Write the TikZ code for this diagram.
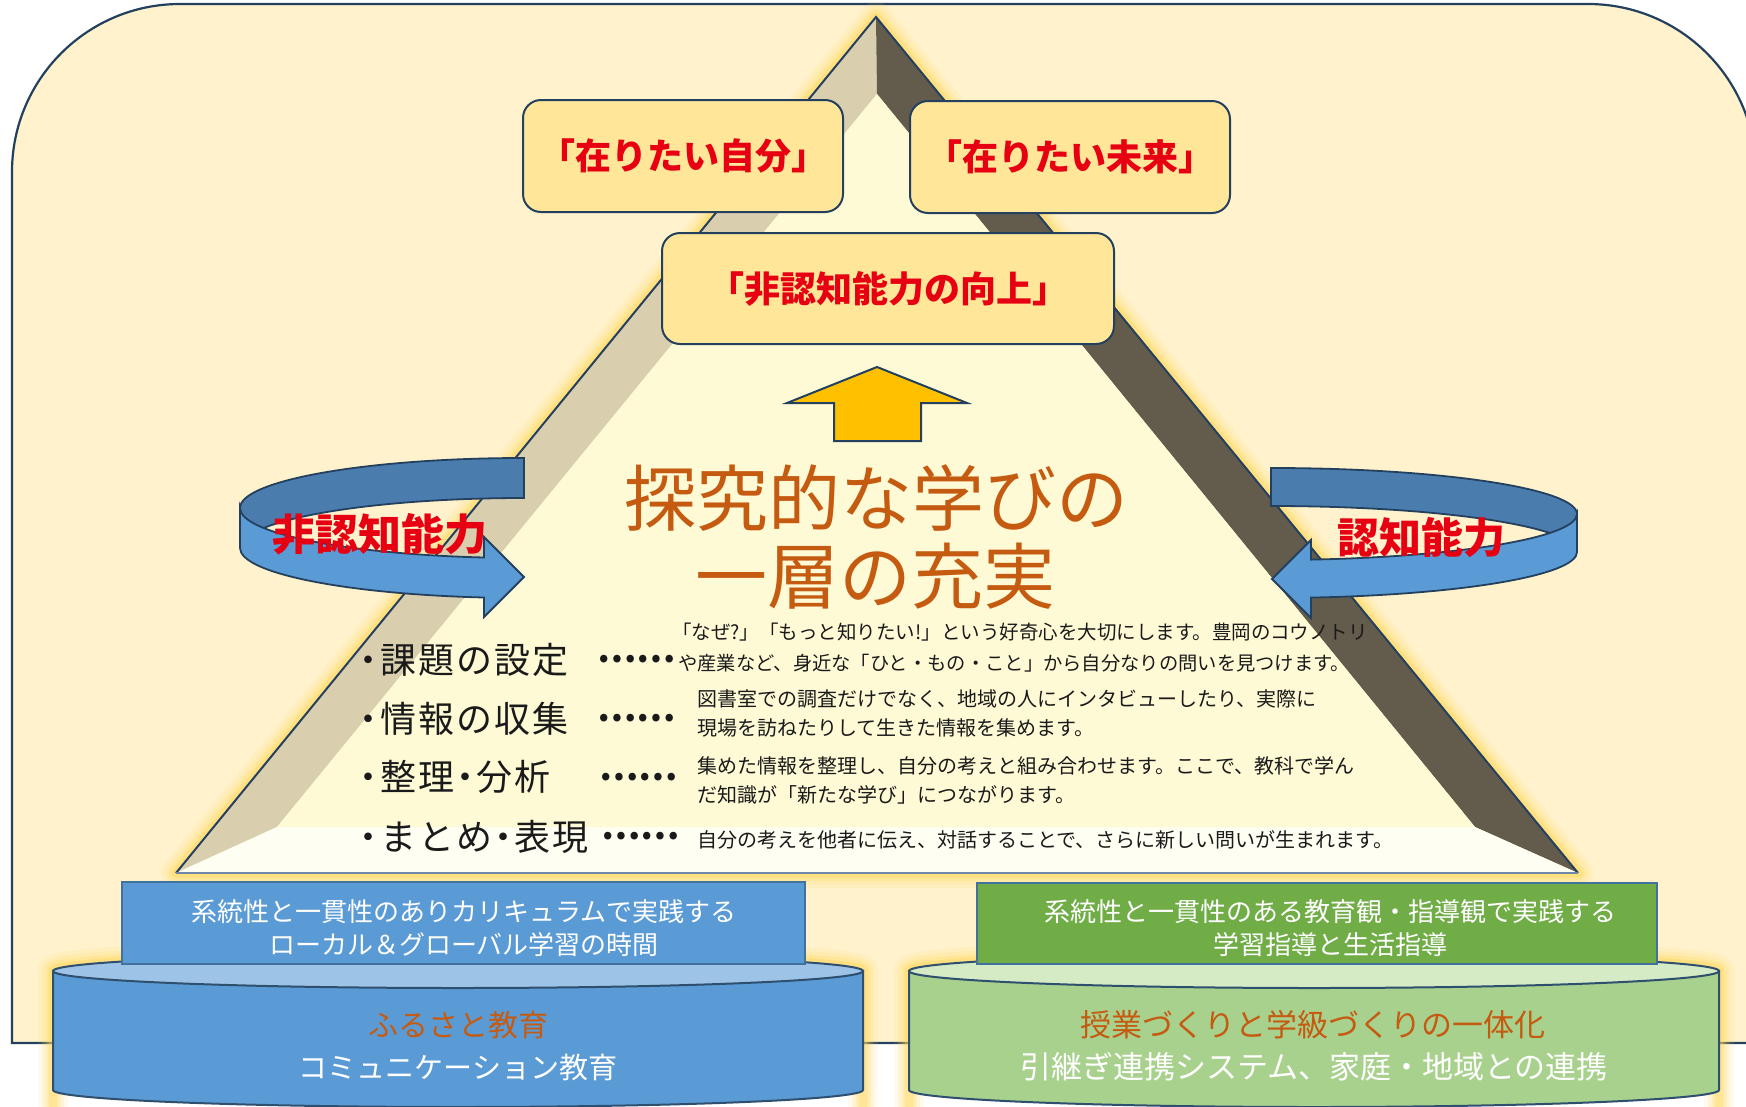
\documentclass[tikz,border=0pt]{standalone}
\usepackage{fontspec}
\setmainfont{Noto Sans CJK JP}
\usepackage{graphicx}
\definecolor{bgfill}{HTML}{FFF2CC}
\definecolor{linec}{HTML}{24405F}
\definecolor{tanf}{HTML}{D9CFAF}
\definecolor{darkf}{HTML}{635C4D}
\definecolor{frontf}{HTML}{FFFAD6}
\definecolor{botf}{HTML}{FFFEF2}
\definecolor{boxf}{HTML}{FFE699}
\definecolor{redc}{HTML}{E60012}
\definecolor{orangec}{HTML}{C55A11}
\definecolor{goldc}{HTML}{FFC000}
\definecolor{glowc}{HTML}{FFD54F}
\definecolor{ribdark}{HTML}{4A7DAE}
\definecolor{ribfront}{HTML}{5B9BD5}
\definecolor{bluef}{HTML}{5B9BD5}
\definecolor{bluetop}{HTML}{9DC3E6}
\definecolor{blueline}{HTML}{41719C}
\definecolor{greenf}{HTML}{70AD47}
\definecolor{greenside}{HTML}{A9D18E}
\definecolor{greentop}{HTML}{D5EBC6}
\definecolor{cylline}{HTML}{2F4F6F}
\definecolor{baseln}{HTML}{6F87A8}
\definecolor{txtc}{HTML}{1A1A1A}
\newcommand\mysize[1]{\fontsize{#1pt}{#1pt}\selectfont}
\newcommand\myglow[1]{%
  \foreach \w/\o in {30/0.10,22/0.15,15/0.22,9/0.32}{%
    \draw[glowc, line width=\w pt, opacity=\o, line join=round] #1;}}
\tikzset{
  lbox/.style={draw=linec, line width=2pt, fill=boxf, rounded corners=18pt,
    inner sep=0pt, text=redc, font=\mysize{36}\bfseries},
  titletxt/.style={inner sep=0pt, text=orangec, font=\mysize{72}},
  itemtxt/.style={inner sep=0pt, anchor=west, text=txtc,
    font=\mysize{36}\addfontfeature{LetterSpace=6}},
  dotstxt/.style={inner sep=0pt, anchor=west, text=txtc, font=\mysize{35}\bfseries},
  desctxt/.style={inner sep=0pt, anchor=west, text=txtc, font=\mysize{20}},
  riblabel/.style={inner sep=0pt, text=redc, font=\mysize{43}\bfseries},
  ribback/.style={fill=ribdark, draw=linec, line width=1.8pt, line join=miter},
  ribfr/.style={fill=ribfront, draw=linec, line width=1.8pt, line join=miter},
  rectbox/.style={draw=blueline, line width=2pt, inner sep=0pt},
  recttxt/.style={inner sep=0pt, text=white, font=\mysize{26}},
  cyltxt/.style={inner sep=0pt, font=\mysize{30}},
}
\begin{document}
\begin{tikzpicture}[x=1pt,y=-1pt]
\useasboundingbox (0,0) rectangle (1746,1106);
\clip (0,0) rectangle (1746,1106);
\fill[white] (0,0) rectangle (1746,1106);

% background panel
\draw[draw=linec, line width=2.2pt, fill=bgfill] (12,1043) -- (12,172)
  arc[start angle=180, end angle=270, radius=168] -- (1588,4)
  arc[start angle=270, end angle=360, radius=168] -- (1756,1043) -- cycle;

% pyramid
\myglow{(876,17) -- (176,873) -- (1578,873) -- cycle}
\fill[tanf] (876,17) -- (176,873) -- (277,827) -- (877,94) -- cycle;
\fill[darkf] (876,17) -- (877,94) -- (1475,827) -- (1578,873) -- cycle;
\fill[botf] (176,873) -- (277,827) -- (1475,827) -- (1578,873) -- cycle;
\fill[frontf] (877,94) -- (277,827) -- (1475,827) -- cycle;
\draw[linec, line width=2pt] (176,873) -- (876,17) -- (1578,873);
\draw[baseln, line width=2.5pt] (176,873) -- (1578,873);

% top boxes
\node[lbox, minimum width=320pt, minimum height=112pt] (jibun) at (683,156) {「在りたい自分」};
\node[lbox, minimum width=320pt, minimum height=112pt] (mirai) at (1070,157) {「在りたい未来」};
\node[lbox, minimum width=452pt, minimum height=111pt] (kojo) at (888,288.5) {「非認知能力の向上」};

% up arrow
\filldraw[fill=goldc, draw=linec, line width=2pt] (877,367) -- (967,403) -- (921,403)
  -- (921,441) -- (834,441) -- (834,403) -- (787,403) -- cycle;

% title
\node[titletxt] (title1) at (876,498) {探究的な学びの};
\node[titletxt] (title2) at (875,576) {一層の充実};

% list items
\node[itemtxt] (item1) at (356,660) {\makebox[24pt]{・}課題の設定};
\node[itemtxt] (item2) at (356,719) {\makebox[24pt]{・}情報の収集};
\node[itemtxt] (item3) at (356,777) {\makebox[24pt]{・}整理\makebox[22pt]{・}分析};
\node[itemtxt] (item4) at (356,837) {\makebox[24pt]{・}まとめ\makebox[22pt]{・}表現};
\node[dotstxt] (dots1) at (597,659) {……};
\node[dotstxt] (dots2) at (597,718) {……};
\node[dotstxt] (dots3) at (599,777) {……};
\node[dotstxt] (dots4) at (601,836) {……};

% descriptions
\node[desctxt, font=\mysize{19.5}] (d1a) at (672,632) {「なぜ?」「もっと知りたい!」という好奇心を大切にします。豊岡のコウノトリ};
\node[desctxt, font=\mysize{19.3}] (d1b) at (678,663) {や産業など、身近な「ひと・もの・こと」から自分なりの問いを見つけます。};
\node[desctxt] (d2a) at (697,699) {図書室での調査だけでなく、地域の人にインタビューしたり、実際に};
\node[desctxt] (d2b) at (697,728) {現場を訪ねたりして生きた情報を集めます。};
\node[desctxt] (d3a) at (697,766) {集めた情報を整理し、自分の考えと組み合わせます。ここで、教科で学ん};
\node[desctxt] (d3b) at (697,795) {だ知識が「新たな学び」につながります。};
\node[desctxt] (d4) at (697,840) {自分の考えを他者に伝え、対話することで、さらに新しい問いが生まれます。};

% left circular arrow
\path[ribback] (524,458) arc[start angle=270, end angle=180, x radius=284, y radius=50]
  -- (240,548) arc[start angle=180, end angle=270, x radius=284, y radius=50] -- cycle;
\path[ribfr] (240,508) arc[start angle=180, end angle=98.1, x radius=284, y radius=50]
  -- (484,537) -- (524,577) -- (484,617) -- (484,597.5)
  arc[start angle=98.1, end angle=180, x radius=284, y radius=50] -- cycle;
\node[riblabel] (noncog) at (380,534) {非認知能力};

% right circular arrow
\path[ribback] (1271,468) arc[start angle=270, end angle=360, x radius=306, y radius=46]
  -- (1577,552) arc[start angle=0, end angle=-90, x radius=306, y radius=46] -- cycle;
\path[ribfr] (1577,514) arc[start angle=0, end angle=82.5, x radius=306, y radius=46]
  -- (1311,540) -- (1272,579) -- (1311,618) -- (1311,597.6)
  arc[start angle=82.5, end angle=0, x radius=306, y radius=46] -- cycle;
\node[riblabel, font=\mysize{42}\bfseries] (cog) at (1421,538) {認知能力};

% cylinders
\myglow{(53,1110) -- (53,971) arc[start angle=180, end angle=360, x radius=405, y radius=17] -- (863,1110)}
\myglow{(909,1110) -- (909,971) arc[start angle=180, end angle=360, x radius=405, y radius=17] -- (1719,1110)}
\filldraw[fill=bluef, draw=cylline, line width=2pt] (53,971) -- (53,1090)
  arc[start angle=180, end angle=0, x radius=405, y radius=17] -- (863,971) -- cycle;
\filldraw[fill=bluetop, draw=cylline, line width=2pt] (458,971) ellipse[x radius=405, y radius=17];
\filldraw[fill=greenside, draw=cylline, line width=2pt] (909,971) -- (909,1090)
  arc[start angle=180, end angle=0, x radius=405, y radius=17] -- (1719,971) -- cycle;
\filldraw[fill=greentop, draw=cylline, line width=2pt] (1314,971) ellipse[x radius=405, y radius=17];

% rectangles on cylinders
\node[rectbox, fill=bluef, minimum width=683pt, minimum height=82pt] (localbox) at (463.5,923) {};
\node[rectbox, fill=greenf, minimum width=680pt, minimum height=81pt] (guidebox) at (1317,923.5) {};
\node[recttxt] (lt1) at (464,912) {系統性と一貫性のありカリキュラムで実践する};
\node[recttxt] (lt2) at (464,945) {ローカル＆グローバル学習の時間};
\node[recttxt] (gt1) at (1330,912) {系統性と一貫性のある教育観・指導観で実践する};
\node[recttxt] (gt2) at (1330,945) {学習指導と生活指導};

% cylinder texts
\node[cyltxt, text=orangec] (furusato) at (458,1025) {ふるさと教育};
\node[cyltxt, text=white, font=\mysize{29}] (comm) at (458,1067) {コミュニケーション教育};
\node[cyltxt, text=orangec, font=\mysize{31}] (jugyo) at (1313,1025) {授業づくりと学級づくりの一体化};
\node[cyltxt, text=white, font=\mysize{31}] (hiki) at (1314,1067) {引継ぎ連携システム、家庭・地域との連携};
\end{tikzpicture}
\end{document}
